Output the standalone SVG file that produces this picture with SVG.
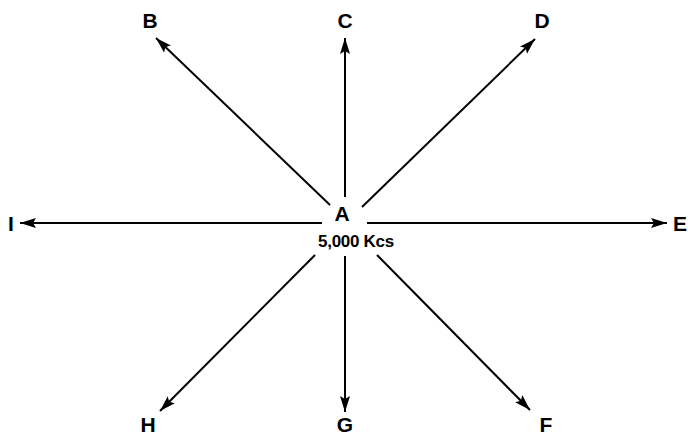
<svg xmlns="http://www.w3.org/2000/svg" width="688" height="437" viewBox="0 0 688 437">
<style>
.lbl{font-family:"Liberation Sans",Arial,sans-serif;font-weight:bold;font-size:21px;fill:#000;text-anchor:middle}
.sub{font-family:"Liberation Sans",Arial,sans-serif;font-weight:bold;font-size:17px;fill:#000;text-anchor:middle;letter-spacing:-0.3px}
.ln{stroke:#000;stroke-width:2;fill:none;marker-end:url(#ah)}
</style>
<defs>
<marker id="ah" markerUnits="userSpaceOnUse" markerWidth="18" markerHeight="12" refX="16" refY="6" orient="auto">
<path d="M0,1 L16,6 L0,11 L3,6 Z" fill="#000"/>
</marker>
</defs>
<rect width="688" height="437" fill="#fff"/>
<g id="connectors">
<line class="ln" x1="330" y1="205" x2="156" y2="38"/>
<line class="ln" x1="345" y1="197" x2="345" y2="38"/>
<line class="ln" x1="362" y1="207" x2="535" y2="39"/>
<line class="ln" x1="367" y1="223" x2="667" y2="223"/>
<line class="ln" x1="377" y1="255" x2="530" y2="410"/>
<line class="ln" x1="345" y1="256" x2="345" y2="412"/>
<line class="ln" x1="315" y1="255" x2="160" y2="411"/>
<line class="ln" x1="322" y1="223" x2="20" y2="223"/>
</g>
<g id="A"><text class="lbl" x="342" y="221">A</text><text class="sub" x="356" y="247">5,000 Kcs</text></g>
<g id="B"><text class="lbl" x="150" y="28">B</text></g>
<g id="C"><text class="lbl" x="345" y="28">C</text></g>
<g id="D"><text class="lbl" x="542" y="28">D</text></g>
<g id="E"><text class="lbl" x="680" y="231">E</text></g>
<g id="F"><text class="lbl" x="546" y="432">F</text></g>
<g id="G"><text class="lbl" x="345" y="432">G</text></g>
<g id="H"><text class="lbl" x="148" y="432">H</text></g>
<g id="I"><text class="lbl" x="11" y="231">I</text></g>
</svg>
